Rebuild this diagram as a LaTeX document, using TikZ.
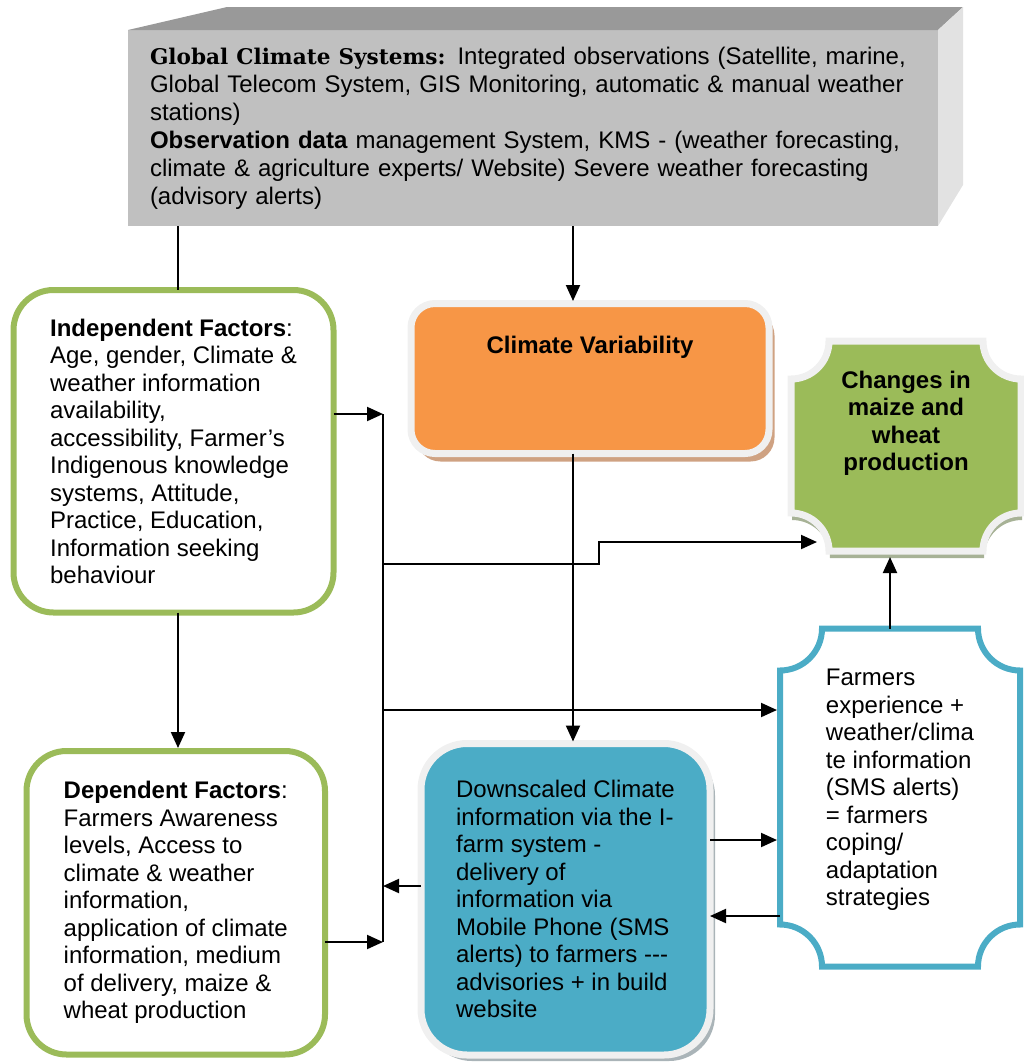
\documentclass[tikz,border=0pt]{standalone}
\usepackage{fontspec}
\setmainfont{Liberation Sans}
\newfontfamily\headserif{DejaVu Serif}
\usetikzlibrary{arrows.meta,shadows}

\definecolor{cvorange}{HTML}{F79646}
\definecolor{leafgreen}{HTML}{9BBB59}
\definecolor{seablue}{HTML}{4BACC6}
\definecolor{rimgray}{HTML}{F0F0F0}
\definecolor{cvshadow}{HTML}{CFA282}
\definecolor{greenshadow}{HTML}{A7B296}
\definecolor{blueshadow}{HTML}{AAB4B8}
\definecolor{frontgray}{HTML}{C0C0C0}
\definecolor{topgray}{HTML}{999999}
\definecolor{sidegray}{HTML}{E2E2E2}

\newcommand{\diagfont}{\fontsize{12}{13.75}\selectfont}

% box with concave corners, drawn round an (empty) node
\newcommand{\plaque}[2]{([xshift=#2]#1.north west) -- ([xshift=-#2]#1.north east)
  arc[start angle=180, end angle=270, radius=#2] -- ([yshift=#2]#1.south east)
  arc[start angle=90, end angle=180, radius=#2] -- ([xshift=#2]#1.south west)
  arc[start angle=0, end angle=90, radius=#2] -- ([yshift=-#2]#1.north west)
  arc[start angle=270, end angle=360, radius=#2] -- cycle}

\tikzset{
  factorbox/.style={draw=leafgreen, line width=3pt, fill=white, rounded corners=20pt, align=left, inner sep=0pt, outer sep=0pt},
  rimbox/.style={draw=rimgray, line width=3.5pt, align=left, inner sep=0pt, outer sep=0pt},
  plaquebox/.style={inner sep=0pt, outer sep=0pt},
}

\begin{document}
\begin{tikzpicture}[x=0.5pt, y=0.5pt, font=\diagfont, line width=1pt, >={Triangle[length=8pt, width=7pt]}]

  \useasboundingbox (0,0) rectangle (1024,-1062);

  % global climate systems (3d block)
  \node[fill=frontgray, minimum width=405pt, minimum height=98pt, inner sep=0pt, outer sep=0pt,
        text width=383pt, align=left, font=\fontsize{12}{14}\selectfont] (gcs) at (533,-128)
    {{\headserif\bfseries\fontsize{10.8}{14}\selectfont Global Climate Systems:} Integrated observations (Satellite, marine,\\
     Global Telecom System, GIS Monitoring, automatic \& manual weather\\
     stations)\\
     \textbf{Observation data} management System, KMS - (weather forecasting,\\
     climate \& agriculture experts/ Website) Severe weather forecasting\\
     (advisory alerts)};
  \fill[topgray] (gcs.north west) -- (227,-7) -- (963,-7) -- (gcs.north east) -- cycle;
  \fill[sidegray] (gcs.north east) -- (963,-7) -- (963,-185) -- (gcs.south east) -- cycle;

  \node[factorbox, minimum width=160pt, minimum height=161.25pt] (indep) at (173.5,-451.25)
    {\textbf{Independent Factors}:\\ Age, gender, Climate \&\\ weather information\\ availability,\\
     accessibility, Farmer’s\\ Indigenous knowledge\\ systems, Attitude,\\ Practice, Education,\\
     Information seeking\\ behaviour};

  \node[factorbox, minimum width=149.25pt, minimum height=151.75pt] (dep) at (175.75,-902.75)
    {\textbf{Dependent Factors}:\\ Farmers Awareness\\ levels, Access to\\ climate \& weather\\ information,\\
     application of climate\\ information, medium\\ of delivery, maize \&\\ wheat production};

  \node[rimbox, fill=cvorange, rounded corners=12pt, minimum width=179pt, minimum height=75pt,
        drop shadow={shadow xshift=2.75pt, shadow yshift=-4pt, fill=cvshadow, opacity=1},
        label={[anchor=center, yshift=-21.75pt, font=\diagfont\bfseries]north:Climate Variability}] (cv) at (590,-378.5) {};

  \node[rimbox, fill=seablue, rounded corners=23pt, minimum width=144.5pt, minimum height=155.75pt,
        drop shadow={shadow xshift=2.5pt, shadow yshift=-3pt, fill=blueshadow, opacity=1}] (down) at (565.5,-899.25)
    {Downscaled Climate\\ information via the I-\\ farm system -\\ delivery of\\ information via\\
     Mobile Phone (SMS\\ alerts) to farmers -{}-{}-\\ advisories + in build\\ website};

  % changes in production
  \node[plaquebox, minimum width=115pt, minimum height=105pt] (changes) at (906,-446) {};
  \draw[draw=rimgray, line width=3.5pt, fill=leafgreen,
        drop shadow={shadow xshift=0.5pt, shadow yshift=-3.5pt, fill=greenshadow, opacity=1}] \plaque{changes}{19pt};
  \node[font=\diagfont\bfseries, align=center] (changestext) at ([yshift=11.25pt]changes.center)
    {Changes in\\ maize and\\ wheat\\ production};

  % farmers experience
  \node[plaquebox, minimum width=120pt, minimum height=169pt] (farm) at (900,-797.5) {};
  \draw[draw=seablue, line width=3pt, fill=white] \plaque{farm}{21pt};
  \node[align=left] (farmtext) at ([yshift=3.75pt]farm.center)
    {Farmers\\ experience +\\ weather/clima\\ te information\\ (SMS alerts)\\ = farmers\\ coping/\\ adaptation\\ strategies};

  % connectors
  \coordinate (leftx) at (178,0);
  \coordinate (spine) at (573,0);
  \coordinate (farmx) at (890,0);
  \coordinate (jIndep) at (383,-414);
  \coordinate (jChange) at (383,-564);
  \coordinate (jFarm) at (383,-710);
  \coordinate (jDown) at (383,-886);
  \coordinate (jDep) at (383,-942);
  \coordinate (rowOut) at (0,-840);
  \coordinate (rowBack) at (0,-916);

  \draw (leftx |- gcs.south) -- (leftx |- indep.north);
  \draw[->, shorten >=1.25pt] (spine |- gcs.south) -- (spine |- cv.north);
  \draw[->, shorten >=1.5pt] (leftx |- indep.south) -- (leftx |- dep.north);
  \draw[->, shorten >=1pt] (spine |- cv.south) -- (spine |- down.north);

  \draw (jIndep) -- (jDep);
  \draw[->] (indep.east |- jIndep) -- (jIndep);
  \draw[->] (dep.east |- jDep) -- (jDep);
  \draw[->] (down.west |- jDown) -- (jDown);
  \draw[->, shorten >=1.5pt] (jFarm) -- (farm.west |- jFarm);
  \draw[->] (jChange) -- ++(108pt,0) |- ([shift={(13pt,4.5pt)}]changes.south west);

  \draw[->, shorten >=1.5pt] (down.east |- rowOut) -- (farm.west |- rowOut);
  \draw[<-] (down.east |- rowBack) -- (farm.west |- rowBack);
  \draw[->, shorten >=3pt] (farmx |- farm.north) -- (farmx |- changes.south);

\end{tikzpicture}
\end{document}
